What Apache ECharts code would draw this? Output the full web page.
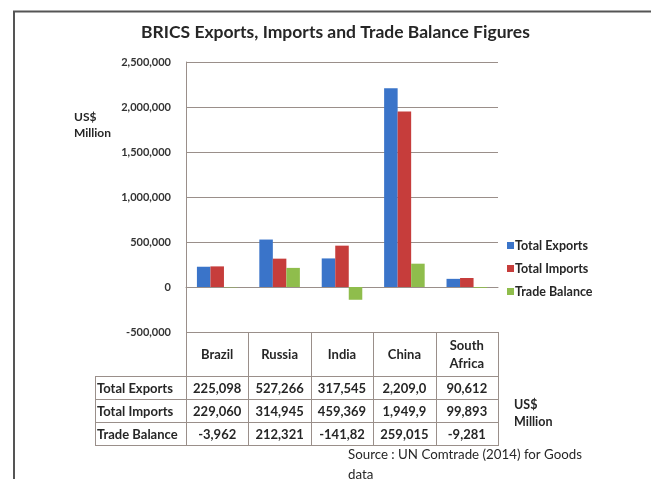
<!DOCTYPE html>
<html>
<head>
<meta charset="utf-8">
<script src="https://cdn.jsdelivr.net/npm/echarts@6/dist/echarts.min.js"></script>
<style>
  html, body { margin: 0; padding: 0; background: #fff; }
  #chart { width: 651px; height: 479px; }
</style>
</head>
<body>
<div id="chart"></div>
<script>
// BRICS trade figures, US$ million
const countries = ['Brazil', 'Russia', 'India', 'China', 'South\nAfrica'];
const seriesNames = ['Total Exports', 'Total Imports', 'Trade Balance'];
const totalExports = [225098, 527266, 317545, 2209000, 90612];
const totalImports = [229060, 314945, 459369, 1949900, 99893];
const tradeBalance = [-3962, 212321, -141820, 259015, -9281];
const yTicks = { min: -500000, max: 2500000, interval: 500000 };

const colors = ['#3a74c9', '#c63d3b', '#8fbd4c'];
const FONT = 'Lato, "Open Sans", sans-serif';
const lineColor = '#9a8f8a';

const fmt = v => v.toLocaleString('en-US');
// narrow table cells cut long numbers off after seven characters
const cellText = v => fmt(v).slice(0, 7);

const chart = echarts.init(document.getElementById('chart'), null, { renderer: 'canvas' });

const gridL = 186, gridR = 498, gridT = 62, gridB = 332;

chart.setOption({
  animation: false,
  backgroundColor: '#fff',
  color: colors,
  title: {
    text: 'BRICS Exports, Imports and Trade Balance Figures',
    left: 136, top: 18,
    textStyle: { fontFamily: FONT, fontSize: 17.5, fontWeight: 'bold', color: '#262626' }
  },
  legend: {
    orient: 'vertical', left: 502, top: 234, itemGap: 10,
    itemWidth: 7, itemHeight: 7, icon: 'rect',
    textStyle: { fontFamily: FONT, fontSize: 12.5, fontWeight: 'bold', color: '#262626', padding: [0, 0, 0, -4] },
    data: seriesNames
  },
  grid: { left: gridL, right: 651 - gridR, top: gridT, bottom: 479 - gridB, containLabel: false },
  xAxis: {
    type: 'category', data: countries,
    axisLine: { onZero: true, lineStyle: { color: lineColor, width: 1 } },
    axisTick: { show: false }, axisLabel: { show: false }
  },
  yAxis: {
    type: 'value', min: yTicks.min, max: yTicks.max, interval: yTicks.interval,
    axisLine: { show: true, lineStyle: { color: lineColor, width: 1 } },
    axisTick: { show: false },
    splitLine: { lineStyle: { color: lineColor, width: 1 } },
    axisLabel: {
      margin: 15, formatter: v => fmt(v),
      fontFamily: FONT, fontSize: 11, fontWeight: 'bold', color: '#333'
    }
  },
  series: [
    { name: seriesNames[0], type: 'bar', data: totalExports, barGap: '0%', barCategoryGap: '35%' },
    { name: seriesNames[1], type: 'bar', data: totalImports, barGap: '0%', barCategoryGap: '35%' },
    { name: seriesNames[2], type: 'bar', data: tradeBalance, barGap: '0%', barCategoryGap: '35%' }
  ]
});

// data table under the plot, columns aligned with the category axis
const els = [];
const colW = (gridR - gridL) / countries.length;
const edges = countries.map((_, i) => gridL + i * colW).concat([gridR]);
const headerTop = chart.convertToPixel({ yAxisIndex: 0 }, yTicks.min);
const headerBot = 376, rowH = 23;
const tableLeft = 95;
const rows = [totalExports, totalImports, tradeBalance];
const tableBot = headerBot + rowH * rows.length;
const ln = (x1, y1, x2, y2) => ({
  type: 'line', shape: { x1, y1, x2, y2 },
  style: { stroke: lineColor, lineWidth: 1 }, silent: true
});
const txt = (x, y, text, opts = {}) => ({
  type: 'text', x, y,
  style: Object.assign({
    text, fontFamily: FONT, fontSize: 13, fontWeight: 'bold', fill: '#262626',
    align: 'center', verticalAlign: 'middle'
  }, opts), silent: true
});

// header cells
edges.forEach((x, i) => els.push(ln(Math.round(x) + 0.5, headerTop, Math.round(x) + 0.5, tableBot)));
countries.forEach((c, i) => {
  const cx = chart.convertToPixel({ xAxisIndex: 0 }, c);
  els.push(txt(cx, (headerTop + headerBot) / 2 + 1, c, { lineHeight: 18 }));
});
// body rows
els.push(ln(tableLeft + 0.5, headerBot, tableLeft + 0.5, tableBot));
for (let r = 0; r <= rows.length; r++) {
  const y = headerBot + r * rowH + 0.5;
  els.push(ln(tableLeft, y, gridR + 1, y));
}
rows.forEach((vals, r) => {
  const cy = headerBot + r * rowH + rowH / 2 + 1;
  els.push(txt(tableLeft + 2, cy, seriesNames[r], { align: 'left' }));
  vals.forEach((v, i) => {
    const cx = chart.convertToPixel({ xAxisIndex: 0 }, countries[i]);
    els.push(txt(cx, cy, cellText(v)));
  });
});

// unit notes and source
els.push(txt(74, 125, 'US$\nMillion', { align: 'left', fontSize: 12, lineHeight: 16 }));
els.push(txt(514, 413, 'US$\nMillion', { align: 'left', fontSize: 12.5, lineHeight: 17 }));
els.push(txt(348, 455, 'Source : UN Comtrade (2014) for Goods', { align: 'left', fontWeight: 'normal', fontSize: 13.3 }));
els.push(txt(348, 475, 'data', { align: 'left', fontWeight: 'normal', fontSize: 13.3 }));

// page frame
els.push({ type: 'line', shape: { x1: 13, y1: 11.5, x2: 651, y2: 11.5 }, style: { stroke: '#555', lineWidth: 2 }, silent: true });
els.push({ type: 'line', shape: { x1: 14, y1: 11, x2: 14, y2: 479 }, style: { stroke: '#555', lineWidth: 2 }, silent: true });

chart.setOption({ graphic: { elements: els } });
</script>
</body>
</html>
